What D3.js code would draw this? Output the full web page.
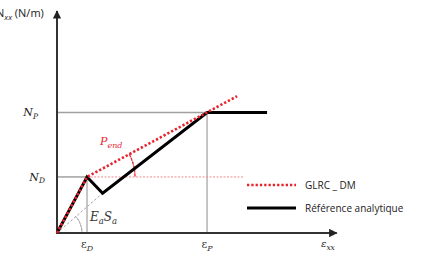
<!DOCTYPE html>
<html>
<head>
<meta charset="utf-8">
<script src="https://cdn.jsdelivr.net/npm/d3@7"></script>
<style>
  body { margin: 0; background: #fff; }
  svg { display: block; }
  .math { font-family: "DejaVu Serif", "Liberation Serif", serif; font-style: italic; }
  .leg { font-family: "Open Sans", "Liberation Sans", sans-serif; font-size: 10px; fill: #222; }
</style>
</head>
<body>
<svg id="chart"></svg>
<script>
// values in "diagram units": eps_D = 1, N_D = 1
const epsTicks = [{v: 1, sub: "D"}, {v: 5, sub: "P"}];
const nTicks = [{v: 1, sub: "D"}, {v: 2.15, sub: "P"}];

// analytic reference: loading, damage drop, reload, plateau
const refEps = [0, 1, 1.52, 5, 7];
const refN   = [0, 1, 0.71, 2.15, 2.15];

// GLRC_DM model
const glrcEps = [0, 1, 6];
const glrcN   = [0, 1, 2.44];

// unloading secant to origin
const secantEps = [0, 1.52];
const secantN   = [0, 0.71];

const width = 431;
const height = 253;

const svg = d3.select("#chart").attr("width", width).attr("height", height);

const x = d3.scaleLinear().domain([0, 9.32]).range([57, 336.7]);
const y = d3.scaleLinear().domain([0, 3.96]).range([233, 11]);

const line = d3.line().x(d => x(d[0])).y(d => y(d[1]));

// arrow heads
const defs = svg.append("defs");
defs.append("marker")
  .attr("id", "arrow")
  .attr("viewBox", "0 0 10 10")
  .attr("refX", 9).attr("refY", 5)
  .attr("markerWidth", 4.2).attr("markerHeight", 4.2)
  .attr("orient", "auto")
  .append("path")
  .attr("d", "M0,0 L10,5 L0,10 z")
  .attr("fill", "#222");

const grey = "#a0a0a0";
const red = "#e8232b";

// guide lines at N_D / N_P and eps_D / eps_P
svg.append("line")
  .attr("x1", x(0)).attr("x2", x(5))
  .attr("y1", y(2.15)).attr("y2", y(2.15))
  .attr("stroke", grey).attr("stroke-width", 1.5);
svg.append("line")
  .attr("x1", x(0)).attr("x2", x(1))
  .attr("y1", y(1)).attr("y2", y(1))
  .attr("stroke", grey).attr("stroke-width", 1.5);
svg.append("line")
  .attr("x1", x(1)).attr("x2", x(1))
  .attr("y1", y(1)).attr("y2", y(0))
  .attr("stroke", grey).attr("stroke-width", 1.2);
svg.append("line")
  .attr("x1", x(5)).attr("x2", x(5))
  .attr("y1", y(2.15)).attr("y2", y(0))
  .attr("stroke", grey).attr("stroke-width", 1.2);

// pink dashed horizontal from the damage point
svg.append("line")
  .attr("x1", x(1)).attr("x2", x(6.2))
  .attr("y1", y(1)).attr("y2", y(1))
  .attr("stroke", "#f08a8e").attr("stroke-width", 1)
  .attr("stroke-dasharray", "2,1.5");

// secant (grey dashed)
svg.append("path")
  .datum(d3.zip(secantEps, secantN))
  .attr("d", line)
  .attr("fill", "none")
  .attr("stroke", "#888").attr("stroke-width", 0.8)
  .attr("stroke-dasharray", "2.5,2");

// angle arcs
const o = [x(0), y(0)];
const secAng = Math.atan2(y(0.71) - y(0), x(1.52) - x(0));
svg.append("path")
  .attr("d", d3.arc()({innerRadius: 25, outerRadius: 25,
    startAngle: Math.PI / 2 + secAng, endAngle: Math.PI / 2}))
  .attr("transform", `translate(${o[0]},${o[1]})`)
  .attr("fill", "none").attr("stroke", "#888").attr("stroke-width", 0.8)
  .attr("stroke-dasharray", "2,1.5");

const dp = [x(1), y(1)];
const pAng = Math.atan2(y(2.44) - y(1), x(6) - x(1));
svg.append("path")
  .attr("d", d3.arc()({innerRadius: 48, outerRadius: 48,
    startAngle: Math.PI / 2 + pAng, endAngle: Math.PI / 2}))
  .attr("transform", `translate(${dp[0]},${dp[1]})`)
  .attr("fill", "none").attr("stroke", red).attr("stroke-width", 1.3)
  .attr("stroke-dasharray", "2,2");

// axes
svg.append("line")
  .attr("x1", x(0)).attr("x2", x(0))
  .attr("y1", y(0) + 1).attr("y2", y(3.96))
  .attr("stroke", "#333").attr("stroke-width", 2)
  .attr("marker-end", "url(#arrow)");
svg.append("line")
  .attr("x1", x(0) - 1).attr("x2", x(9.32))
  .attr("y1", y(0)).attr("y2", y(0))
  .attr("stroke", "#333").attr("stroke-width", 2)
  .attr("marker-end", "url(#arrow)");

// reference curve
svg.append("path")
  .datum(d3.zip(refEps, refN))
  .attr("d", line)
  .attr("fill", "none")
  .attr("stroke", "#000").attr("stroke-width", 3)
  .attr("stroke-linejoin", "miter");

// GLRC_DM curve
svg.append("path")
  .datum(d3.zip(glrcEps, glrcN))
  .attr("d", line)
  .attr("fill", "none")
  .attr("stroke", red).attr("stroke-width", 2.6)
  .attr("stroke-dasharray", "2.3,2");

// tick labels
const epsLab = svg.selectAll(".epslab")
  .data(epsTicks).enter().append("text")
  .attr("class", "epslab")
  .attr("x", d => x(d.v)).attr("y", 248)
  .attr("text-anchor", "middle")
  .attr("font-family", "DejaVu Serif, serif")
  .attr("font-size", 11).attr("fill", "#333");
epsLab.append("tspan").text("ε");
epsLab.append("tspan").attr("dy", 2.5).attr("font-size", 8)
  .attr("font-style", "italic").text(d => d.sub);

const nLab = svg.selectAll(".nlab")
  .data(nTicks).enter().append("text")
  .attr("class", "nlab math")
  .attr("x", 38).attr("y", d => y(d.v) + 4)
  .attr("text-anchor", "end")
  .attr("font-size", 11).attr("fill", "#222");
nLab.append("tspan").text("N");
nLab.append("tspan").attr("dy", 2.5).attr("font-size", 7.5).text(d => d.sub);
nLab.filter(d => d.sub === "D").attr("x", 45);

// axis titles (cut at the left edge, as in the original figure)
const yt = svg.append("text").attr("x", -4).attr("y", 17)
  .attr("font-family", "Open Sans, sans-serif").attr("font-size", 11).attr("fill", "#222");
yt.append("tspan").text("N");
yt.append("tspan").attr("dy", 2.5).attr("font-size", 8).attr("font-style", "italic").text("xx");
yt.append("tspan").attr("dy", -2.5).text(" (N/m)");

const xt = svg.append("text").attr("x", 321).attr("y", 247)
  .attr("class", "math").attr("font-size", 10).attr("fill", "#222");
xt.append("tspan").text("ε");
xt.append("tspan").attr("dy", 2.5).attr("font-size", 7.5).text("xx");

// annotations
const pe = svg.append("text").attr("x", 100).attr("y", 145)
  .attr("class", "math").attr("font-size", 11).attr("fill", red);
pe.append("tspan").text("P");
pe.append("tspan").attr("dy", 3).attr("font-size", 8).text("end");

const es = svg.append("text").attr("x", 90).attr("y", 221)
  .attr("class", "math").attr("font-size", 12).attr("fill", "#333");
es.append("tspan").text("E");
es.append("tspan").attr("dy", 2.5).attr("font-size", 8.5).text("a");
es.append("tspan").attr("dy", -2.5).text("S");
es.append("tspan").attr("dy", 2.5).attr("font-size", 8.5).text("a");

// legend
const legend = [
  {name: "GLRC _ DM", color: red, dash: "2.3,2", w: 2.6},
  {name: "Référence analytique", color: "#000", dash: null, w: 3}
];
const lg = svg.selectAll(".lg").data(legend).enter().append("g")
  .attr("transform", (d, i) => `translate(247,${185 + i * 23})`);
lg.append("line")
  .attr("x1", 0).attr("x2", 49)
  .attr("stroke", d => d.color).attr("stroke-width", d => d.w)
  .attr("stroke-dasharray", d => d.dash);
lg.append("text")
  .attr("class", "leg")
  .attr("x", 58).attr("y", 4)
  .text(d => d.name);
</script>
</body>
</html>
